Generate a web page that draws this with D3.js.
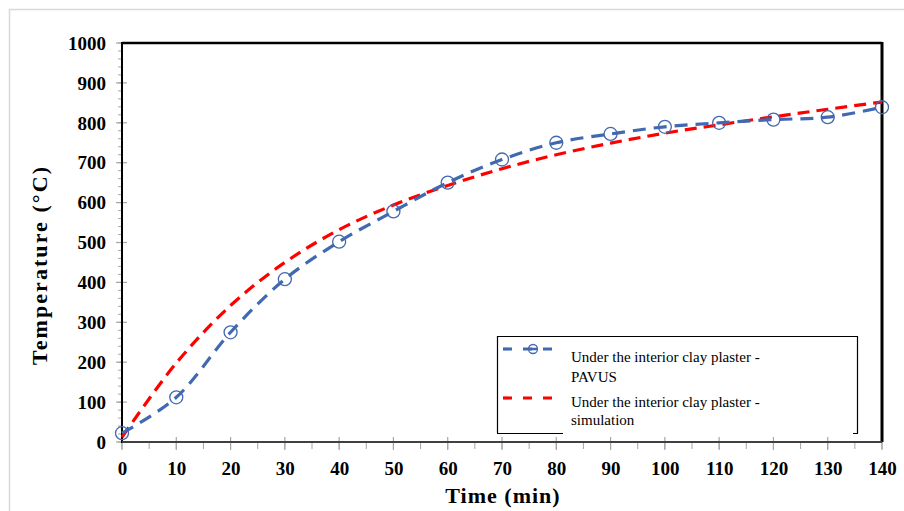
<!DOCTYPE html>
<html><head><meta charset="utf-8">
<script src="https://cdn.jsdelivr.net/npm/d3@7"></script>
<style>body{margin:0;background:#fff}svg{display:block}</style>
</head><body>
<script>
const time = [0,10,20,30,40,50,60,70,80,90,100,110,120,130,140];
const pavus = [22,112,275,408,502,578,650,708,750,772,790,800,808,814,839];
const simulation = [12,198,342,450,532,594,643,685,720,749,774,795,815,834,852];
const xTicks = [0,10,20,30,40,50,60,70,80,90,100,110,120,130,140];
const yTicks = [0,100,200,300,400,500,600,700,800,900,1000];
const legendLabels = [["Under the interior clay plaster -","PAVUS"],["Under the interior clay plaster -","simulation"]];

const W=904,H=511;
const svg=d3.select("body").append("svg").attr("width",W).attr("height",H);
const font="'Liberation Serif','Times New Roman',serif";
const x=d3.scaleLinear().domain([0,140]).range([122,882]);
const y=d3.scaleLinear().domain([0,1000]).range([442,43]);
const blue="#4169b0", red="#ff0000", tickCol="#a6a6a6";

// outer chart border
svg.append("path").attr("d","M9.5,511 L9.5,9.5 L904,9.5").attr("fill","none").attr("stroke","#d9d9d9").attr("stroke-width",1.5);

// minor/major ticks y
const g=svg.append("g");
g.selectAll(".ymin").data(d3.range(0,1001,20)).enter().append("line")
 .attr("x1",118).attr("x2",122).attr("y1",d=>y(d)).attr("y2",d=>y(d)).attr("stroke",tickCol).attr("stroke-width",1);
g.selectAll(".ymaj").data(yTicks).enter().append("line")
 .attr("x1",116).attr("x2",127).attr("y1",d=>y(d)).attr("y2",d=>y(d)).attr("stroke",tickCol).attr("stroke-width",1.2);
// x ticks
g.selectAll(".xmin").data(d3.range(0,141,5)).enter().append("line")
 .attr("x1",d=>x(d)).attr("x2",d=>x(d)).attr("y1",442).attr("y2",449).attr("stroke",tickCol).attr("stroke-width",1);
g.selectAll(".xmaj").data(xTicks).enter().append("line")
 .attr("x1",d=>x(d)).attr("x2",d=>x(d)).attr("y1",437).attr("y2",450).attr("stroke",tickCol).attr("stroke-width",1.2);

// frame
svg.append("line").attr("x1",x(0)).attr("x2",x(140)).attr("y1",y(1000)).attr("y2",y(1000)).attr("stroke","#000").attr("stroke-width",2.5);
svg.append("line").attr("x1",x(140)).attr("x2",x(140)).attr("y1",y(1000)-1).attr("y2",y(0)).attr("stroke","#000").attr("stroke-width",3);
svg.append("line").attr("x1",x(0)).attr("x2",x(0)).attr("y1",y(1000)-1).attr("y2",y(0)+1).attr("stroke","#000").attr("stroke-width",2);
svg.append("line").attr("x1",x(0)).attr("x2",x(140)).attr("y1",y(0)).attr("y2",y(0)).attr("stroke","#404040").attr("stroke-width",2);

// tick labels
svg.append("g").attr("transform","translate(106,0)")
 .call(d3.axisLeft(y).tickValues(yTicks).tickFormat(d3.format("d")).tickSize(0).tickPadding(0))
 .call(s=>s.select(".domain").remove())
 .selectAll("text").attr("font-family",font).attr("font-weight","bold").attr("font-size",19).attr("fill","#000").attr("dy","0.33em");
svg.append("g").attr("transform","translate(0,461)")
 .call(d3.axisBottom(x).tickValues(xTicks).tickFormat(d3.format("d")).tickSize(0).tickPadding(0))
 .call(s=>s.select(".domain").remove())
 .selectAll("text").attr("font-family",font).attr("font-weight","bold").attr("font-size",19).attr("fill","#000").attr("dy","0.71em");

// axis titles
svg.append("text").attr("x",503).attr("y",503).attr("text-anchor","middle").attr("font-family",font)
 .attr("font-weight","bold").attr("font-size",22).attr("letter-spacing",1).text("Time (min)");
svg.append("text").attr("transform","translate(47,266) rotate(-90)").attr("text-anchor","middle").attr("font-family",font)
 .attr("font-weight","bold").attr("font-size",22).attr("textLength",198).attr("lengthAdjust","spacing").text("Temperature  (°C)");

// lines
const line=d3.line().curve(d3.curveCatmullRom.alpha(0.5));
const simPts=time.map((t,i)=>[x(t),y(simulation[i])]);
const pavPts=time.map((t,i)=>[x(t),y(pavus[i])]);
svg.append("path").attr("d",line(simPts)).attr("fill","none").attr("stroke",red).attr("stroke-width",3.2).attr("stroke-dasharray","12,7");
svg.append("path").attr("d",line(pavPts)).attr("fill","none").attr("stroke",blue).attr("stroke-width",3.2).attr("stroke-dasharray","13,8");
svg.selectAll(".mk").data(pavPts).enter().append("circle").attr("cx",d=>d[0]).attr("cy",d=>d[1]).attr("r",6.5)
 .attr("fill","none").attr("stroke",blue).attr("stroke-width",1.3);

// legend
const lg=svg.append("g");
lg.append("path").attr("d","M497.5,433 L497.5,336.5 L857.5,336.5 L857.5,433.5 L853,433.5").attr("fill","none").attr("stroke","#000").attr("stroke-width",1.2);
lg.append("line").attr("x1",497).attr("x2",563).attr("y1",433.5).attr("y2",433.5).attr("stroke","#000").attr("stroke-width",1.2);
lg.append("line").attr("x1",503).attr("x2",563).attr("y1",349).attr("y2",349).attr("stroke",blue).attr("stroke-width",3.2).attr("stroke-dasharray","9,11");
lg.append("circle").attr("cx",533).attr("cy",349).attr("r",4.5).attr("fill","none").attr("stroke",blue).attr("stroke-width",1.3);
lg.append("line").attr("x1",533-4).attr("x2",533+4).attr("y1",349).attr("y2",349).attr("stroke",blue).attr("stroke-width",2.5);
lg.append("line").attr("x1",503).attr("x2",563).attr("y1",398).attr("y2",398).attr("stroke",red).attr("stroke-width",3.2).attr("stroke-dasharray","9,11");
const ty=[[362,382],[407,425]];
legendLabels.forEach((lines,i)=>{
  lines.forEach((t,j)=>{
    lg.append("text").attr("x",571).attr("y",ty[i][j]).attr("font-family",font).attr("font-size",15).attr("fill","#000").text(t);
  });
});
</script>
</body></html>
